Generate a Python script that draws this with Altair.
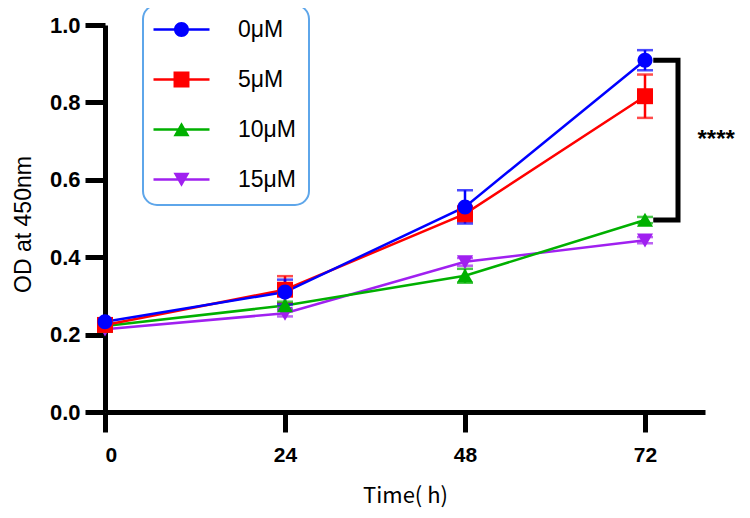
import altair as alt
import pandas as pd

# ---- data ----
times = [0, 24, 48, 72]
groups = ["0μM", "5μM", "10μM", "15μM"]
colors = ["#0000ff", "#ff0000", "#00b000", "#a020f0"]
mean_0 = [0.233, 0.310, 0.530, 0.909]
sd_0 = [0.008, 0.032, 0.043, 0.026]
mean_5 = [0.225, 0.316, 0.512, 0.816]
sd_5 = [0.008, 0.035, 0.020, 0.056]
mean_10 = [0.222, 0.275, 0.352, 0.496]
sd_10 = [0.005, 0.010, 0.018, 0.008]
mean_15 = [0.214, 0.255, 0.388, 0.444]
sd_15 = [0.005, 0.008, 0.010, 0.008]
y_ticks = [0, 0.2, 0.4, 0.6, 0.8, 1.0]
x_ticks = [0, 24, 48, 72]
sig_label = "****"

means = [mean_0, mean_5, mean_10, mean_15]
sds = [sd_0, sd_5, sd_10, sd_15]

rows = []
# draw 15μM first so that 0μM ends on top
for gi in reversed(range(len(groups))):
    for t, m, s in zip(times, means[gi], sds[gi]):
        rows.append({"time": t, "group": groups[gi], "mean": m,
                     "lo": m - s, "hi": m + s, "rank": len(groups) - gi,
                     "ghost": None})
df = pd.DataFrame(rows)

# marker paths (unit box), plain ones for the plot
p_circle = "M1.07,0A1.07,1.07,0,1,1,-1.07,0A1.07,1.07,0,1,1,1.07,0Z"
p_square = "M-1.14,-1.14H1.14V1.14H-1.14Z"
p_up = "M0,-1.05L1.15,0.95H-1.15Z"
p_down = "M0,1.05L-1.15,-0.95H1.15Z"
plain_paths = [p_circle, p_square, p_up, p_down]
stub = "M-4,-0.18H4V0.18H-4Z "
legend_paths = [stub + p for p in plain_paths]

FONT = "Liberation Sans"
x_scale = alt.Scale(domain=[0, 80], nice=False, zero=False)
y_scale = alt.Scale(domain=[0, 1], nice=False)

x_axis = alt.Axis(values=x_ticks, title="Time( h)", grid=False,
                  domainWidth=5, domainColor="black", tickWidth=5, tickColor="black",
                  tickSize=20, labelFont=FONT, labelFontSize=21, labelFontWeight="bold",
                  labelColor="black", labelPadding=12, titleFont="Noto Sans CJK SC",
                  titleFontSize=22, titleFontWeight="normal", titleColor="black",
                  titlePadding=20)
y_axis = alt.Axis(values=y_ticks, format=".1f", title="OD at 450nm", grid=False,
                  domainWidth=5, domainColor="black", tickWidth=5, tickColor="black",
                  tickSize=20, labelFont=FONT, labelFontSize=22, labelFontWeight="bold",
                  labelColor="black", labelPadding=5, titleFont=FONT,
                  titleFontSize=23, titleFontWeight="normal", titleColor="black",
                  titlePadding=14, titleY=199)

X = alt.X("time:Q", scale=x_scale, axis=x_axis)
Y = alt.Y("mean:Q", scale=y_scale, axis=y_axis)
color_plain = alt.Color("group:N", scale=alt.Scale(domain=groups, range=colors), legend=None)

base = alt.Chart(df)

lines = base.mark_line(strokeWidth=2.5).encode(x=X, y=Y, color=color_plain, detail="group:N")
err = base.mark_rule(strokeWidth=2.5).encode(x="time:Q", y="lo:Q", y2="hi:Q", color=color_plain)
cap_lo = base.mark_tick(orient="horizontal", size=16, thickness=2.5).encode(
    x="time:Q", y="lo:Q", color=color_plain)
cap_hi = base.mark_tick(orient="horizontal", size=16, thickness=2.5).encode(
    x="time:Q", y="hi:Q", color=color_plain)
points = base.mark_point(filled=True, size=196, opacity=1).encode(
    x="time:Q", y="mean:Q", color=color_plain,
    shape=alt.Shape("group:N", scale=alt.Scale(domain=groups, range=plain_paths), legend=None),
    order=alt.Order("rank:Q"))

legend = alt.Legend(orient="none", legendX=38, legendY=-20, title=None, padding=13,
                    rowPadding=26, labelFont=FONT, labelFontSize=23, labelColor="black",
                    symbolSize=196, symbolOffset=14, labelOffset=45, symbolStrokeWidth=0,
                    symbolOpacity=1, strokeColor="#5ea6ea", cornerRadius=14, fillColor="white")
# legend-only layer: its y values are empty, so it draws nothing in the plot
legend_layer = base.mark_point(filled=True, size=196).encode(
    x="time:Q", y="ghost:Q",
    color=alt.Color("group:N", scale=alt.Scale(domain=groups, range=colors), legend=legend),
    shape=alt.Shape("group:N", scale=alt.Scale(domain=groups, range=legend_paths), legend=legend))

# significance bracket between 0μM and 10μM at 72 h
top = mean_0[-1]
bot = mean_10[-1]
br = pd.DataFrame({"x": [73.1, 76.4, 76.4, 73.1], "y": [top, top, bot, bot], "o": [0, 1, 2, 3]})
bracket = alt.Chart(br).mark_line(color="black", strokeWidth=5, strokeJoin="miter").encode(
    x="x:Q", y="y:Q", order="o:Q")
stars = alt.Chart(pd.DataFrame({"x": [79.0], "y": [(top + bot) / 2], "t": [sig_label]})).mark_text(
    align="left", baseline="middle", fontSize=24, fontWeight="bold", font=FONT, color="black"
).encode(x="x:Q", y="y:Q", text="t:N")

chart = alt.layer(lines, err, cap_lo, cap_hi, points, legend_layer, bracket, stars).resolve_scale(
    color="independent", shape="independent"
).properties(
    width=600, height=387,
    autosize=alt.AutoSizeParams(type="none"),
    padding={"left": 97, "top": 17, "right": 37, "bottom": 105},
).configure_view(stroke=None).configure_legend(strokeWidth=2)

chart.save("out.html", embed_options={"renderer": "svg", "actions": False})
